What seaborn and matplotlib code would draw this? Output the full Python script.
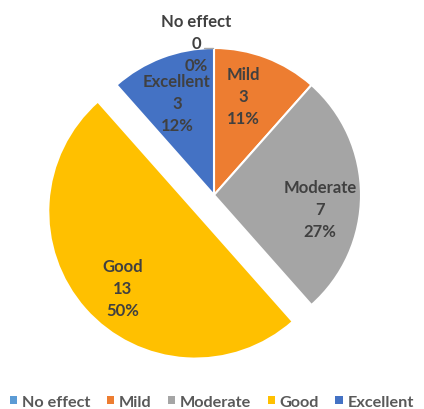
import matplotlib
matplotlib.use("Agg")
import matplotlib.pyplot as plt
import seaborn as sns
import numpy as np
from matplotlib.patches import Patch

categories = ["No effect", "Mild", "Moderate", "Good", "Excellent"]
counts = [0, 3, 7, 13, 3]
percent_labels = ["0%", "11%", "27%", "50%", "12%"]
colors = ["#5B9BD5", "#ED7D31", "#A5A5A5", "#FFC000", "#4472C4"]
explode = [0, 0, 0, 0.17, 0]

# label offsets (in pie radii) relative to each wedge's centre
label_offsets = [(-0.122, 1.035), (0.197, 0.673), (0.721, -0.095),
                 (-0.492, -0.520), (-0.252, 0.626)]

sns.set_theme(style="white")
plt.rcParams["font.family"] = ["Lato", "DejaVu Sans"]

W, H = 424, 410
fig = plt.figure(figsize=(W / 100, H / 100), dpi=100)
ax = fig.add_axes([0, 0, 1, 1])

wedges, _ = ax.pie(counts, colors=colors, explode=explode, startangle=90,
                   counterclock=False, radius=1,
                   wedgeprops=dict(edgecolor="white", linewidth=1.5))

cx, cy, rpx = 214, 196, 147  # pie centre / radius in pixels
ax.set_aspect("auto")
ax.set_xlim(-cx / rpx, (W - cx) / rpx)
ax.set_ylim(-(H - cy) / rpx, cy / rpx)
ax.axis("off")

fs = 12
for i, w in enumerate(wedges):
    txt = f"{categories[i]}\n{counts[i]}\n{percent_labels[i]}"
    x0, y0 = w.center
    dx, dy = label_offsets[i]
    ax.text(x0 + dx, y0 + dy, txt, ha="center", va="center", fontsize=fs,
            fontweight="bold", color="#404040", linespacing=1.45)
    if counts[i] == 0:
        ax.plot([-0.065, -0.008], [1.0, 1.0], color="#A6A6A6", lw=1)

handles = [Patch(facecolor=c, edgecolor="none") for c in colors]
leg = ax.legend(handles, categories, loc="lower center", bbox_to_anchor=(0.5, -0.035),
                ncol=5, frameon=False, handlelength=0.45, handleheight=0.45,
                handletextpad=0.3, columnspacing=1.0,
                prop=dict(family="Lato", weight="bold", size=11.7))
for t in leg.get_texts():
    t.set_color("#595959")

fig.savefig("out.png", dpi=100)
